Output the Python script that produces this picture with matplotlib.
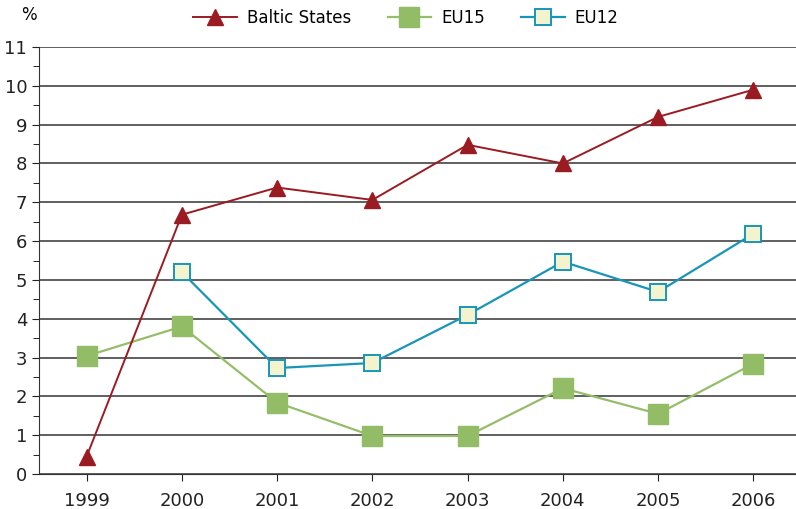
import numpy as np
import matplotlib.pyplot as plt
from matplotlib.ticker import MultipleLocator

years = ["1999", "2000", "2001", "2002", "2003", "2004", "2005", "2006"]
baltic = [0.45, 6.68, 7.38, 7.06, 8.48, 8.0, 9.2, 9.9]
eu15 = [3.04, 3.8, 1.84, 0.98, 0.98, 2.21, 1.55, 2.84]
eu12 = [np.nan, 5.2, 2.73, 2.86, 4.1, 5.47, 4.69, 6.19]

plt.rcParams["font.family"] = ["DejaVu Sans"]

fig = plt.figure(figsize=(7.96, 5.09), dpi=100)
ax = fig.add_axes([39 / 796, (509 - 474) / 509, 762 / 796, 427 / 509])

x = np.arange(len(years)) + 0.5
ax.plot(x, baltic, color="#9B1B22", lw=1.4, marker="^", ms=11,
        mfc="#9B1B22", mec="#9B1B22", label="Baltic States", zorder=4)
ax.plot(x, eu15, color="#94BE68", lw=1.6, marker="s", ms=15,
        mfc="#92BC66", mec="#92BC66", label="EU15", zorder=3)
ax.plot(x, eu12, color="#1896B9", lw=1.6, marker="s", ms=11,
        mfc="#F3F3CD", mec="#1896B9", mew=1.4, label="EU12", zorder=3)

ax.set_xlim(0, 8)
ax.set_ylim(0, 11)
ax.set_xticks(x)
ax.set_xticklabels(years)
ax.yaxis.set_major_locator(MultipleLocator(1))
ax.yaxis.set_minor_locator(MultipleLocator(0.5))
ax.grid(axis="y", which="major", color="#444444", lw=1.2)
ax.set_axisbelow(True)
for s in ["top", "right"]:
    ax.spines[s].set_visible(False)
ax.spines["left"].set_color("#333333")
ax.spines["bottom"].set_color("#333333")
ax.tick_params(axis="both", labelsize=13, colors="#222222", length=5)
ax.tick_params(axis="y", which="minor", length=4)
ax.tick_params(axis="x", pad=8)

fig.text(29 / 796, 1 - 15 / 509, "%", fontsize=12, ha="center", va="center")
ax.legend(loc="center", bbox_to_anchor=(367 / 762, 1 + (474 - 18 - 427) / 427),
          ncol=3, frameon=False, fontsize=12, handlelength=2.6,
          handletextpad=0.6, columnspacing=2.2)

plt.savefig("out.png", dpi=100)
